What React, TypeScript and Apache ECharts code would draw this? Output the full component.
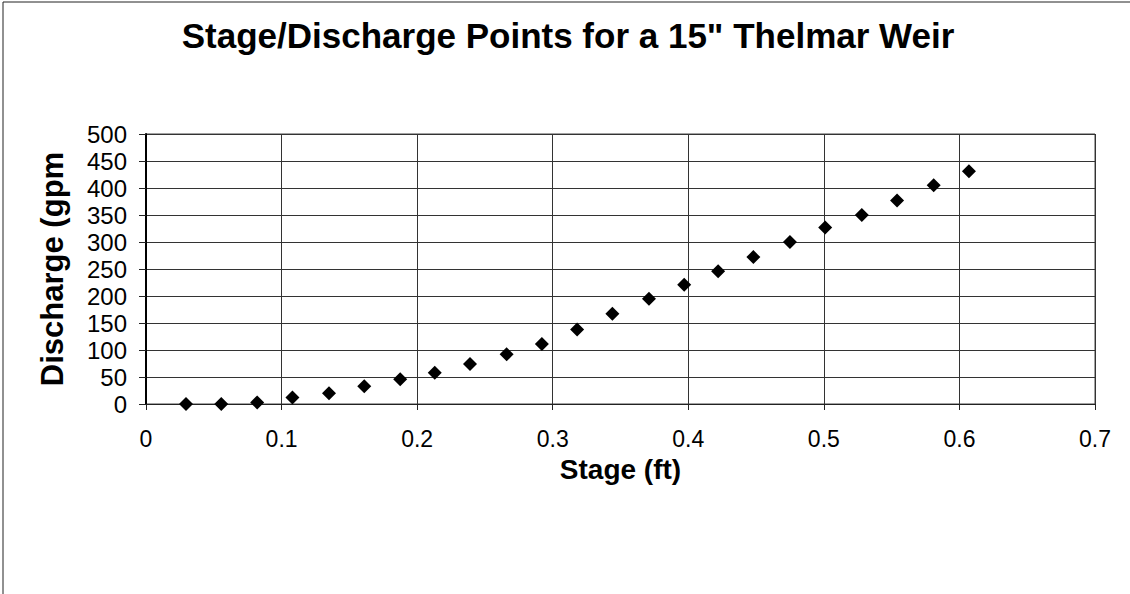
import React, { useEffect, useRef } from "react";
import * as echarts from "echarts";

const titleText = 'Stage/Discharge Points for a 15" Thelmar Weir';
const xAxisName = "Stage (ft)";
const yAxisName = "Discharge (gpm";
const stageFt = [0.0295, 0.0555, 0.082, 0.108, 0.135, 0.161, 0.1875, 0.213, 0.239, 0.266, 0.292, 0.318, 0.344, 0.371, 0.397, 0.422, 0.448, 0.475, 0.501, 0.528, 0.554, 0.581, 0.607];
const dischargeGpm = [0, 0, 3, 12, 20, 33, 46, 58, 74, 92, 111, 138, 167, 195, 221, 246, 272, 300, 327, 350, 377, 405, 431];

const FONT = "'Liberation Sans', Arial, Helvetica, sans-serif";

export default function App() {
  const ref = useRef<HTMLDivElement>(null);
  useEffect(() => {
    document.body.style.margin = "0";
    const chart = echarts.init(ref.current!, null, { renderer: "svg" });
    const points = stageFt.map((x, i) => [x, dischargeGpm[i]]);
    chart.setOption({
      animation: false,
      backgroundColor: "#ffffff",
      textStyle: { fontFamily: FONT },
      title: {
        text: titleText,
        left: 568,
        textAlign: "center",
        top: 18,
        padding: 0,
        textStyle: { fontFamily: FONT, fontSize: 35, fontWeight: "bold", color: "#000" },
      },
      graphic: [
        { type: "line", shape: { x1: 3, y1: 2, x2: 1130, y2: 2 }, style: { stroke: "#222", lineWidth: 1 } },
        { type: "line", shape: { x1: 3, y1: 2, x2: 3, y2: 594 }, style: { stroke: "#222", lineWidth: 1 } },
      ],
      grid: { left: 146, right: 35, top: 134, bottom: 190, show: true, borderColor: "#444", borderWidth: 1 },
      xAxis: {
        type: "value",
        min: 0,
        max: 0.7,
        interval: 0.1,
        name: xAxisName,
        nameLocation: "middle",
        nameGap: 51,
        nameTextStyle: { fontFamily: FONT, fontSize: 28, fontWeight: "bold", color: "#000" },
        axisLine: { show: true, onZero: false, lineStyle: { color: "#222", width: 1 } },
        axisTick: { show: true, inside: false, length: 6, lineStyle: { color: "#222" } },
        axisLabel: {
          margin: 23,
          fontSize: 23,
          color: "#000",
          fontFamily: FONT,
          formatter: (v: number) => String(+v.toFixed(1)),
        },
        splitLine: { show: true, lineStyle: { color: "#333", width: 1 } },
      },
      yAxis: {
        type: "value",
        min: 0,
        max: 500,
        interval: 50,
        name: yAxisName,
        nameLocation: "middle",
        nameGap: 78,
        nameRotate: 90,
        nameTextStyle: { fontFamily: FONT, fontSize: 31, fontWeight: "bold", color: "#000" },
        axisLine: { show: true, onZero: false, lineStyle: { color: "#000", width: 2 } },
        axisTick: { show: true, inside: false, length: 7, lineStyle: { color: "#222" } },
        axisLabel: { margin: 19, fontSize: 24, color: "#000", fontFamily: FONT },
        splitLine: { show: true, lineStyle: { color: "#333", width: 1 } },
      },
      series: [
        {
          type: "scatter",
          data: points,
          symbol: "diamond",
          symbolSize: 14,
          itemStyle: { color: "#000", opacity: 1 },
        },
      ],
    });
    return () => chart.dispose();
  }, []);
  return <div ref={ref} style={{ width: 1130, height: 594 }} />;
}
